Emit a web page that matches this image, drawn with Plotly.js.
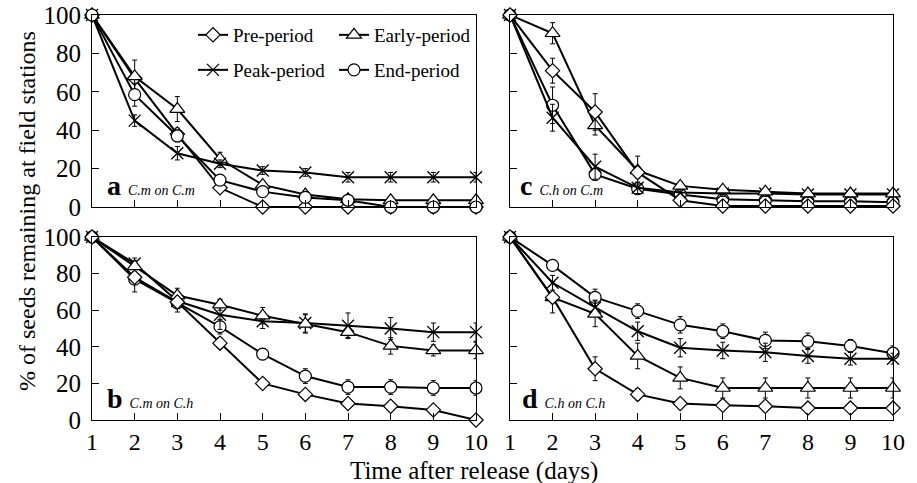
<!DOCTYPE html>
<html>
<head>
<meta charset="utf-8">
<script src="https://cdn.plot.ly/plotly-3.0.1.min.js"></script>
<style>html,body{margin:0;padding:0;background:#fff;}#chart{width:917px;height:483px;}</style>
</head>
<body>
<div id="chart"></div>
<script>
// ---- data ----
var days = [1, 2, 3, 4, 5, 6, 7, 8, 9, 10];
var seriesNames = ["Pre-period", "Early-period", "Peak-period", "End-period"];

// panel a: C.m on C.m
var pre_a   = [100, 67, 38, 10, 0, 0, 0, 0, 0, 0];
var early_a = [100, 68, 51, 25, 11.5, 6.5, 4, 3.5, 3.5, 3.5];
var peak_a  = [100, 45, 28, 22.5, 19, 18, 15.5, 15.5, 15.5, 15.5];
var end_a   = [100, 58.5, 37, 14, 8, 5, 3.5, 0, 0, 0];
var pre_a_err   = [0, 2, 3, 2, 0.5, 0.5, 0.5, 0.5, 0.5, 0.5];
var early_a_err = [0, 8.5, 6.5, 3.5, 2, 1.5, 1.5, 1, 1, 1];
var peak_a_err  = [0, 3, 3.5, 2, 2, 2, 2.5, 2.5, 2.5, 2.5];
var end_a_err   = [0, 6, 3, 2, 2, 1, 1, 0.5, 0.5, 0.5];

// panel c: C.h on C.m
var pre_c   = [100, 71, 49.5, 18, 3.5, 0.5, 0.5, 0.5, 0.5, 0.5];
var early_c = [100, 90.5, 42.5, 19, 11, 9, 8, 7, 7, 7];
var peak_c  = [100, 46.5, 21, 10, 7.5, 7, 7, 6.5, 6.5, 6.5];
var end_c   = [100, 53, 17, 9.5, 6.5, 4, 3.5, 3, 3, 2.5];
var pre_c_err   = [0, 6.5, 9.5, 3, 1.5, 0.5, 0.5, 0.5, 0.5, 0.5];
var early_c_err = [0, 5.5, 5, 7.5, 2, 1.5, 1.5, 1.5, 1.5, 1.5];
var peak_c_err  = [0, 7, 6.5, 3, 1.5, 1.5, 1.5, 1.5, 1.5, 1.5];
var end_c_err   = [0, 9.5, 3, 3, 1, 1, 1, 1, 1, 1];

// panel b: C.m on C.h
var pre_b   = [100, 78, 64.5, 42, 20, 14, 9, 7.5, 5.5, 0];
var early_b = [100, 84, 68, 63, 57, 52.5, 48, 40.5, 38, 38];
var peak_b  = [100, 85.5, 65, 57.5, 54, 53, 51.5, 50, 48, 48];
var end_b   = [100, 77, 64, 51, 36, 24, 18, 18, 17.5, 17.5];
var pre_b_err   = [0, 2, 2, 3, 1, 1, 1, 1, 1, 1];
var early_b_err = [0, 3, 4, 3, 4.5, 5, 3, 4.5, 3, 4.5];
var peak_b_err  = [0, 3, 4, 8, 4, 5, 7, 6, 5, 5];
var end_b_err   = [0, 7, 5, 4, 3, 4, 4, 4, 4, 4];

// panel d: C.h on C.h
var pre_d   = [100, 67, 28, 14, 9, 8, 7.5, 6.5, 6.5, 6.5];
var early_d = [100, 67, 58, 35, 23, 17.5, 17.5, 17.5, 17.5, 17.5];
var peak_d  = [100, 75, 61.5, 48.5, 39.5, 38, 37, 35, 33.5, 33.5];
var end_d   = [100, 84.5, 67, 59.5, 52, 48.5, 43.5, 43, 40.5, 36.5];
var pre_d_err   = [0, 2, 6.5, 3, 1, 1, 1, 1, 1, 1];
var early_d_err = [0, 8.5, 7, 7, 6, 5.5, 5.5, 5.5, 5.5, 5.5];
var peak_d_err  = [0, 4, 4, 5, 5, 4.5, 5, 4, 3.5, 3];
var end_d_err   = [0, 1.5, 4.5, 4, 4.5, 4, 4.5, 4.5, 3.5, 4];

var panelLetters = ["a", "c", "b", "d"];
var panelSubtitles = ["C.m on C.m", "C.h on C.m", "C.m on C.h", "C.h on C.h"];
var yTickVals = [0, 20, 40, 60, 80, 100];
var xTickVals = days;

// ---- styles ----
var FONT = "'Liberation Serif', 'Times New Roman', Times, serif";
var markerStyles = [
  {symbol: "diamond", size: 11, color: "#fff", line: {color: "#000", width: 1.2}},
  {symbol: "triangle-up", size: 13, color: "#fff", line: {color: "#000", width: 1.2}},
  {symbol: "x-thin", size: 12, color: "#000", line: {color: "#000", width: 1.3}},
  {symbol: "circle", size: 12, color: "#fff", line: {color: "#000", width: 1.2}}
];

var panels = [
  {vals: [pre_a, early_a, peak_a, end_a], errs: [pre_a_err, early_a_err, peak_a_err, end_a_err], xa: "x", ya: "y"},
  {vals: [pre_c, early_c, peak_c, end_c], errs: [pre_c_err, early_c_err, peak_c_err, end_c_err], xa: "x2", ya: "y2"},
  {vals: [pre_b, early_b, peak_b, end_b], errs: [pre_b_err, early_b_err, peak_b_err, end_b_err], xa: "x3", ya: "y3"},
  {vals: [pre_d, early_d, peak_d, end_d], errs: [pre_d_err, early_d_err, peak_d_err, end_d_err], xa: "x4", ya: "y4"}
];

var traces = [];
var drawOrder = [3, 2, 1, 0];
panels.forEach(function (p, pi) {
  var order = pi === 0 ? [0, 1, 2, 3] : drawOrder;
  order.forEach(function (si) {
    traces.push({
      type: "scatter",
      mode: "lines+markers",
      x: days,
      y: p.vals[si],
      xaxis: p.xa, yaxis: p.ya,
      name: seriesNames[si],
      showlegend: pi === 0,
      legend: (si < 2) ? "legend" : "legend2",
      line: {color: "#000", width: 2},
      marker: markerStyles[si],
      cliponaxis: false,
      error_y: {type: "data", array: p.errs[si], visible: true, color: "#000", thickness: 1, width: 2.5},
      hoverinfo: "skip"
    });
  });
});

var W = 917, H = 483;
function px(x) { return x / W; }
function py(y) { return 1 - y / H; }

function xax(domain, showLabels, anchor) {
  return {
    domain: domain, range: [1, 10], anchor: anchor,
    tickmode: "array", tickvals: xTickVals, ticktext: xTickVals.map(String),
    showticklabels: showLabels,
    ticks: "inside", ticklen: 7, tickwidth: 1, tickcolor: "#000",
    showline: true, linecolor: "#000", linewidth: 1, mirror: true,
    showgrid: false, zeroline: false,
    tickfont: {family: FONT, size: 24, color: "#000"}
  };
}
function yax(domain, showLabels, anchor) {
  return {
    domain: domain, range: [0, 100], anchor: anchor,
    tickmode: "array", tickvals: yTickVals, ticktext: yTickVals.map(String),
    showticklabels: showLabels,
    ticks: "inside", ticklen: 7, tickwidth: 1, tickcolor: "#000",
    ticklabelstandoff: 5,
    showline: true, linecolor: "#000", linewidth: 1, mirror: true,
    showgrid: false, zeroline: false,
    tickfont: {family: FONT, size: 25, color: "#000"}
  };
}

var leftDom = [px(92), px(476)];
var rightDom = [px(510), px(893)];
var topDom = [py(207), py(15)];
var botDom = [py(420), py(237)];

var annotations = [];
var labelPos = [[105, 203], [518, 203], [105, 416], [520, 416]];
panelLetters.forEach(function (l, i) {
  annotations.push({
    xref: "paper", yref: "paper", x: px(labelPos[i][0]), y: py(labelPos[i][1]),
    xanchor: "left", yanchor: "bottom", showarrow: false,
    text: "<b>" + l + "</b> <i><span style='font-size:14px'>" + panelSubtitles[i] + "</span></i>",
    font: {family: FONT, size: 28, color: "#000"}
  });
});
annotations.push({
  xref: "paper", yref: "paper", x: px(27), y: py(211), xanchor: "center", yanchor: "middle",
  textangle: -90, showarrow: false, text: "% of seeds remaining at field stations",
  font: {family: FONT, size: 24, color: "#000"}
});
annotations.push({
  xref: "paper", yref: "paper", x: px(474), y: py(471), xanchor: "center", yanchor: "middle",
  showarrow: false, text: "Time after release (days)",
  font: {family: FONT, size: 25, color: "#000"}
});

var legendCommon = {
  orientation: "h", xanchor: "left", yanchor: "middle",
  entrywidth: 96, entrywidthmode: "pixels",
  bgcolor: "rgba(0,0,0,0)", borderwidth: 0,
  font: {family: FONT, size: 19, color: "#000"},
  itemsizing: "trace", traceorder: "normal"
};
var legend1 = Object.assign({}, legendCommon, {x: px(193), y: py(35)});
var legend2 = Object.assign({}, legendCommon, {x: px(193), y: py(70)});

var layout = {
  width: W, height: H,
  margin: {l: 0, r: 0, t: 0, b: 0},
  paper_bgcolor: "#fff", plot_bgcolor: "#fff",
  showlegend: true,
  legend: legend1,
  legend2: legend2,
  xaxis: xax(leftDom, false, "y"),
  yaxis: yax(topDom, true, "x"),
  xaxis2: xax(rightDom, false, "y2"),
  yaxis2: yax(topDom, false, "x2"),
  xaxis3: xax(leftDom, true, "y3"),
  yaxis3: yax(botDom, true, "x3"),
  xaxis4: xax(rightDom, true, "y4"),
  yaxis4: yax(botDom, false, "x4"),
  annotations: annotations,
  font: {family: FONT, color: "#000"}
};

Plotly.newPlot("chart", traces, layout, {staticPlot: true, displayModeBar: false});
</script>
</body>
</html>
